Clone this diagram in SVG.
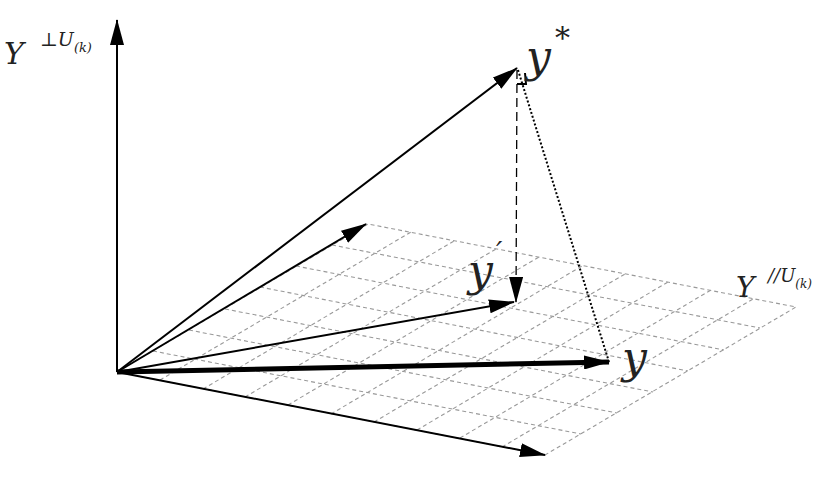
<svg xmlns="http://www.w3.org/2000/svg" width="836" height="496" viewBox="0 0 836 496">
<style>
.g{stroke:#999;stroke-width:1.1;stroke-dasharray:4 3;fill:none}
.v{stroke:#000;stroke-width:2;fill:none}
.m{font-family:"DejaVu Serif","Liberation Serif",serif;font-style:italic;fill:#222}
</style>
<defs>
<marker id="ah" markerWidth="10" markerHeight="8" refX="9" refY="4" orient="auto" markerUnits="userSpaceOnUse" viewBox="0 0 10 8"><path d="M0,0 L10,4 L0,8 Z" fill="#000"/></marker>
<marker id="ahl" markerWidth="26" markerHeight="14" refX="25" refY="7" orient="auto" markerUnits="userSpaceOnUse" viewBox="0 0 26 14"><path d="M0,0 L26,7 L0,14 Z" fill="#000"/></marker>
</defs>
<rect width="836" height="496" fill="#fff"/>
<g id="grid">
<path class="g" d="M117,372 L368,224 L796,307 L545,455 Z"/>
<path class="g" d="M160,380 L411,232 M203,389 L454,241 M245,397 L496,249 M288,405 L539,257 M331,414 L582,266 M374,422 L625,274 M417,430 L668,282 M460,438 L711,290 M502,447 L753,299"/>
<path class="g" d="M153,351 L581,434 M189,330 L617,413 M225,309 L653,392 M260,287 L688,371 M296,266 L724,350 M332,245 L760,328"/>
</g>
<g id="connectors">
<line class="v" x1="117" y1="372" x2="117" y2="20" marker-end="url(#ahl)"/>
<line class="v" x1="117" y1="372" x2="517" y2="68" marker-end="url(#ahl)"/>
<line class="v" x1="117" y1="372" x2="366" y2="224" marker-end="url(#ahl)"/>
<line class="v" x1="117" y1="372" x2="514" y2="302" marker-end="url(#ahl)"/>
<line x1="117" y1="372" x2="609" y2="362" stroke="#000" stroke-width="5" marker-end="url(#ahl)"/>
<line class="v" x1="117" y1="372" x2="545" y2="455" marker-end="url(#ahl)"/>
<line x1="517" y1="70" x2="516" y2="302" stroke="#000" stroke-width="1.3" stroke-dasharray="9 5" marker-end="url(#ahl)"/>
<line x1="518" y1="70" x2="609" y2="362" stroke="#000" stroke-width="2" stroke-dasharray="2 2"/>
<path d="M517,84 L526,84 L525,73" fill="none" stroke="#000" stroke-width="2"/>
</g>
<g id="labels">
<text class="m" x="4" y="64" font-size="30">Y</text>
<text class="m" x="40" y="46" font-size="19">⊥U<tspan font-size="13" dy="6">(k)</tspan></text>
<text class="m" x="526" y="72" font-size="44">y</text>
<text class="m" x="555" y="48" font-size="30" font-style="normal">*</text>
<text class="m" x="468" y="286" font-size="44">y</text>
<text class="m" x="496" y="262" font-size="28" font-style="normal">′</text>
<text class="m" x="622" y="373" font-size="44">y</text>
<text class="m" x="736" y="297" font-size="28">Y</text>
<text class="m" x="768" y="282" font-size="18">//U<tspan font-size="12" dy="6">(k)</tspan></text>
</g>
</svg>
